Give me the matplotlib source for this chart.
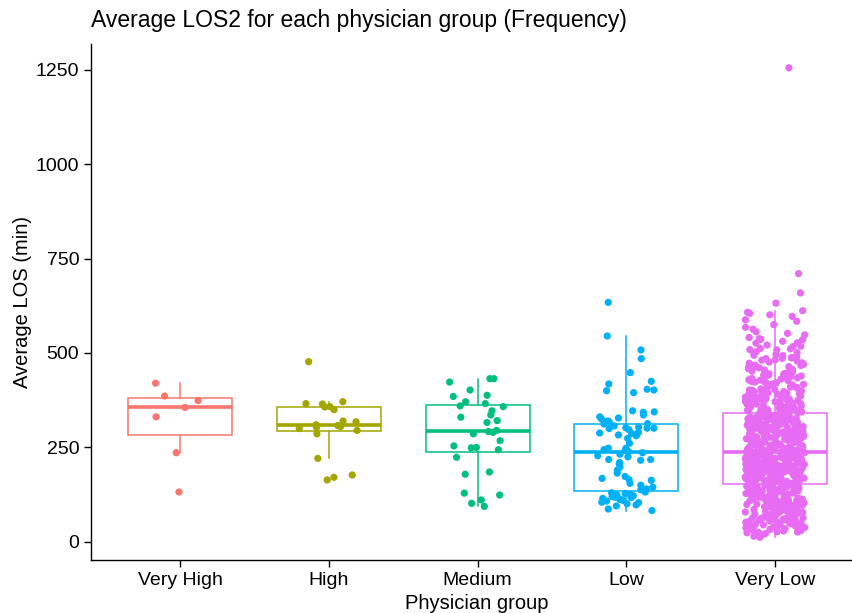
import numpy as np
import matplotlib
matplotlib.use('Agg')
import matplotlib.pyplot as plt

plt.rcParams['font.family'] = ['Liberation Sans', 'DejaVu Sans']

groups = ['Very High', 'High', 'Medium', 'Low', 'Very Low']
colors = ['#F8766D', '#A3A500', '#00BF7D', '#00B0F6', '#E76BF3']

very_high = [420, 386, 374, 356, 331, 236, 132]

high = [477, 371, 366, 365, 358, 357, 350, 320, 318, 310, 308, 305, 303,
        300, 295, 286, 221, 177, 171, 164]

medium = [432, 423, 432, 402, 385, 388, 358, 360, 366, 371, 347, 336, 330,
          321, 316, 292, 295, 286, 290, 268, 254, 244, 249, 250, 224, 185,
          179, 124, 129, 111, 102, 94]

low = [634, 545, 508, 485, 448, 425, 418, 404, 400, 402, 395, 347, 344, 343,
       336, 331, 328, 325, 320, 317, 313, 312, 307, 302, 301, 301, 304, 300,
       297, 290, 288, 286, 283, 287, 283, 281, 274, 261, 248, 248, 244, 242,
       239, 236, 232, 228, 225, 218, 216, 210, 207, 218, 198, 190, 182, 173,
       168, 165, 163, 155, 150, 145, 140, 138, 135, 132, 130, 128, 124, 120,
       125, 118, 122, 117, 115, 110, 113, 104, 105, 108, 101, 112, 98, 95,
       87, 83]

very_low = [
    12, 15, 18, 22, 25, 27, 30, 31, 33, 35, 36, 38, 40, 41, 43, 44, 46, 47, 48, 49,
    51, 52, 54, 55, 57, 58, 59, 61, 62, 64, 65, 66, 68, 69, 70, 71, 73, 74, 75,
    77, 78, 79, 80, 82, 83, 84, 85, 87, 88, 89, 90, 91, 93, 94, 95, 96, 98, 99,
    101, 102, 103, 104, 106, 107, 108, 109, 110, 112, 113, 114, 115, 116, 118,
    119, 120, 121, 123, 124, 125, 126, 128, 129, 130, 131, 133, 134, 135, 137,
    138, 139, 140, 142, 143, 144, 146, 147, 148, 150, 151, 153,
    154, 155, 156, 157, 158, 159, 160, 161, 162, 163, 164, 165, 166, 167, 168,
    169, 170, 171, 172, 173, 174, 175, 176, 177, 178, 179, 180, 181, 182, 183,
    184, 185, 186, 187, 188, 189, 190, 191, 192, 193, 194, 195, 196, 197, 198,
    199, 155, 162, 171, 180, 188, 196,
    200, 201, 202, 203, 204, 205, 205, 206, 207, 208, 209, 210, 211, 211, 212,
    213, 214, 215, 216, 217, 217, 218, 219, 220, 221, 222, 223, 223, 224, 225,
    226, 227, 228, 229, 229, 230, 231, 232, 233, 233, 234, 235, 236, 236, 237,
    202, 214, 226,
    238, 239, 240, 241, 242, 243, 244, 245, 246, 247, 248, 249, 250, 251, 252,
    253, 254, 255, 256, 257, 258, 259, 260, 261, 262, 263, 264, 265, 266, 267,
    268, 269, 270, 271, 272, 273, 274, 275, 276, 277, 278, 279, 280, 281, 282,
    283, 284, 285, 286, 287, 288, 289, 290, 291, 292, 293, 294, 295, 297, 299,
    300, 301, 302, 303, 304, 305, 306, 307, 308, 309, 310, 311, 312, 313, 314,
    315, 316, 317, 318, 319, 320, 321, 322, 323, 324, 325, 326, 327, 328, 329,
    330, 331, 332, 333, 334, 335, 336, 338, 340, 341,
    343, 344, 346, 347, 349, 350, 352, 353, 355, 356, 358, 359, 361, 362, 364,
    365, 367, 368, 370, 371, 373, 374, 376, 377, 379, 380, 382, 383, 385, 386,
    388, 390, 392, 394, 396, 398,
    401, 403, 405, 407, 409, 411, 413, 415, 417, 419, 421, 423, 425, 427, 429,
    431, 433, 435, 437, 439, 441, 443, 445, 447, 449,
    452, 455, 458, 461, 464, 467, 470, 473, 476, 479, 482, 485, 488, 491, 494,
    496, 499,
    503, 508, 512, 517, 521, 526, 531, 536, 541, 548,
    556, 563, 575, 588, 597, 605, 608, 612,
    632, 659, 710, 1255,
    # second pass over the dense part of the cloud
    24, 29, 34, 37, 42, 45, 50, 53, 56, 60, 63, 67, 72, 76, 81, 86, 92, 97,
    100, 105, 111, 117, 122, 127, 132, 136, 141, 145, 149, 152, 26, 39, 58,
    63, 74, 86, 97, 105, 109, 114, 118, 122, 127, 131, 136, 138, 141, 144,
    147, 150, 103, 111, 117, 125, 132, 137, 143, 146, 149, 152,
    155, 157, 158, 160, 161, 163, 164, 166, 167, 169, 170, 172, 173, 175, 176,
    178, 179, 181, 183, 184, 186, 187, 189, 191, 192, 194, 195, 197, 198, 200,
    202, 203, 205, 207, 208, 210, 212, 213, 215, 216, 218, 219, 221, 222, 224,
    225, 227, 228, 230, 231, 233, 234, 235, 236, 237, 163, 178, 192, 208, 221,
    239, 241, 243, 245, 247, 249, 251, 253, 255, 257, 259, 261, 263, 265, 267,
    269, 271, 273, 275, 277, 279, 281, 283, 285, 287, 289, 291, 293, 295, 297,
    299, 301, 303, 305, 307, 309, 311, 313, 315, 317, 319, 321, 323, 325, 327,
    329, 331, 333, 335, 337, 339, 341, 246, 258, 272, 286, 298, 312, 326, 338,
    344, 348, 351, 354, 357, 360, 363, 366, 369, 372, 375, 378, 381, 384, 387,
    391, 395, 399, 402, 406, 410, 414, 418, 422, 426, 430, 434, 438, 442, 446,
    451, 456, 462, 468, 474, 481, 487, 493, 501, 509, 518, 527, 538, 552, 568,
    584, 601, 349, 358, 366, 374, 385, 397, 412, 428, 444, 463, 486, 511, 535]

data = [very_high, high, medium, low, very_low]

fig = plt.figure(figsize=(8.52, 6.13), dpi=100)
ax = fig.add_axes([91 / 852, 1 - 560 / 613, 1 - 91 / 852, (560 - 44) / 613])

positions = np.arange(1, len(groups) + 1)
rng = np.random.default_rng(3)

for i, vals in enumerate(data):
    c = colors[i]
    ax.boxplot([vals], positions=[positions[i]], widths=0.7, showfliers=False,
               showcaps=False, patch_artist=True,
               boxprops=dict(facecolor='white', edgecolor=c, linewidth=1.1),
               whiskerprops=dict(color=c, linewidth=1.1),
               medianprops=dict(color=c, linewidth=2.6),
               zorder=1)
    xs = positions[i] + rng.uniform(-0.2, 0.2, len(vals))
    ax.scatter(xs, vals, s=27, color=c, edgecolors='none', zorder=3)

ax.set_xlim(0.4, 5 + (852 - 775) / 148.6)
ax.set_ylim(-48, 1318)
ax.set_xticks(positions)
ax.set_xticklabels(groups)
ax.set_yticks([0, 250, 500, 750, 1000, 1250])
ax.tick_params(labelsize=14, length=5, width=1, colors='black')
for s in ['top', 'right']:
    ax.spines[s].set_visible(False)
for s in ['left', 'bottom']:
    ax.spines[s].set_linewidth(1)

ax.set_xlabel('Physician group', fontsize=14.5, labelpad=1)
ax.xaxis.set_label_coords((477 - 91) / (852 - 91), -0.065)
ax.set_ylabel('Average LOS (min)', fontsize=14.5, labelpad=3)

fig.text(91 / 852, 1 - 21 / 613, 'Average LOS2 for each physician group (Frequency)',
         fontsize=16.5, ha='left', va='center')

fig.savefig('out.png', dpi=100)
